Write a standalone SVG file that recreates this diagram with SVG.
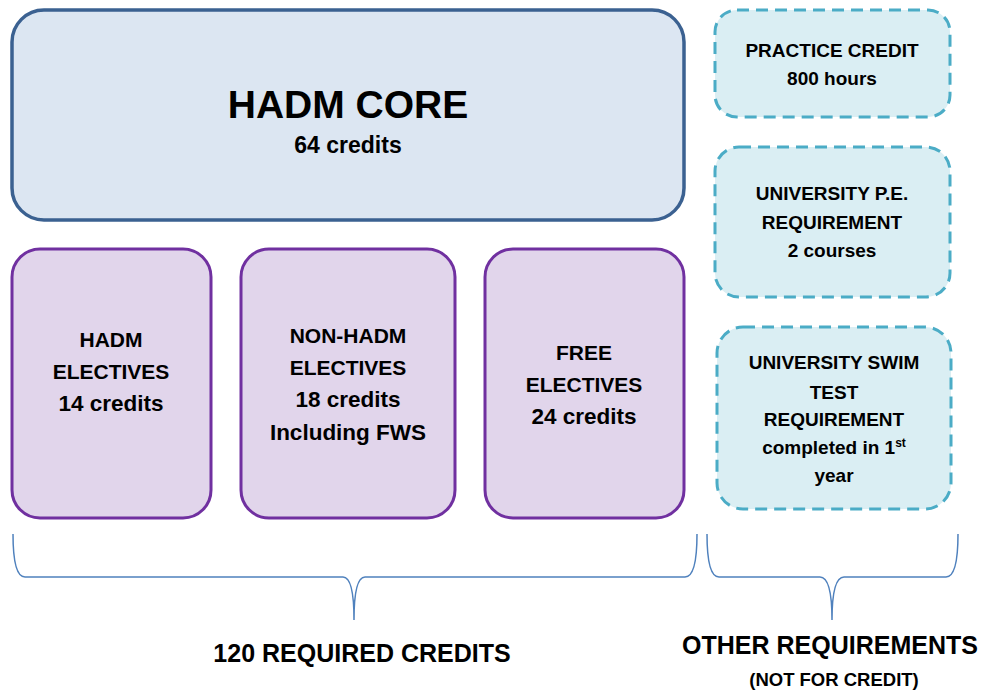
<svg xmlns="http://www.w3.org/2000/svg" width="984" height="690" viewBox="0 0 984 690">
<style>
text{font-family:"Liberation Sans",Arial,sans-serif;font-weight:bold;fill:#000;text-anchor:middle}
.core{fill:#dce6f2;stroke:#3b6191;stroke-width:3.5}
.elec{fill:#e1d5eb;stroke:#7030a0;stroke-width:3}
.other{fill:#daeef3;stroke:#4bacc6;stroke-width:3;stroke-dasharray:12 7}
.t20{font-size:21px}
.l20{font-size:22.5px}
.t18{font-size:19px}
.brace{fill:none;stroke:#4f81bd;stroke-width:1.5}
</style>
<rect width="984" height="690" fill="#fff"/>
<g id="core">
<rect class="core" x="12" y="10" width="672" height="210" rx="32"/>
<text x="348" y="118" style="font-size:39px">HADM CORE</text>
<text x="348" y="153" style="font-size:23px">64 credits</text>
</g>
<g id="hadm-electives">
<rect class="elec" x="12" y="249" width="199" height="269" rx="28"/>
<text class="t20" x="111" y="347">HADM</text>
<text class="t20" x="111" y="379">ELECTIVES</text>
<text class="l20" x="111" y="411">14 credits</text>
</g>
<g id="non-hadm-electives">
<rect class="elec" x="241" y="249" width="214" height="269" rx="28"/>
<text class="t20" x="348" y="343">NON-HADM</text>
<text class="t20" x="348" y="375">ELECTIVES</text>
<text class="l20" x="348" y="407">18 credits</text>
<text class="l20" x="348" y="440">Including FWS</text>
</g>
<g id="free-electives">
<rect class="elec" x="485" y="249" width="199" height="269" rx="28"/>
<text class="t20" x="584" y="360">FREE</text>
<text class="t20" x="584" y="392">ELECTIVES</text>
<text class="l20" x="584" y="424">24 credits</text>
</g>
<g id="practice-credit">
<rect class="other" x="715" y="10" width="235" height="107" rx="22"/>
<text class="t18" x="832" y="57">PRACTICE CREDIT</text>
<text class="t18" x="832" y="85">800 hours</text>
</g>
<g id="pe-requirement">
<rect class="other" x="715" y="147" width="235" height="150" rx="24"/>
<text class="t18" x="832" y="200">UNIVERSITY P.E.</text>
<text class="t18" x="832" y="229">REQUIREMENT</text>
<text class="t18" x="832" y="257">2 courses</text>
</g>
<g id="swim-test">
<rect class="other" x="717" y="327" width="234" height="182" rx="26"/>
<text class="t18" x="834" y="369">UNIVERSITY SWIM</text>
<text class="t18" x="834" y="399">TEST</text>
<text class="t18" x="834" y="426">REQUIREMENT</text>
<text class="t18" x="834" y="454">completed in 1<tspan dy="-7" style="font-size:12px">st</tspan></text>
<text class="t18" x="834" y="482">year</text>
</g>
<g id="connectors">
<path class="brace" d="M13,534 Q13,577 25,577 L343,577 Q354,577 354,620 Q354,577 365,577 L685,577 Q697,577 697,534"/>
<path class="brace" d="M707,534 Q707,577 719,577 L820,577 Q832,577 832,620 Q832,577 844,577 L946,577 Q958,577 958,534"/>
</g>
<g id="labels">
<text x="362" y="662" style="font-size:25px">120 REQUIRED CREDITS</text>
<text x="830" y="654" style="font-size:25px">OTHER REQUIREMENTS</text>
<text x="834" y="686" style="font-size:18.5px">(NOT FOR CREDIT)</text>
</g>
</svg>
